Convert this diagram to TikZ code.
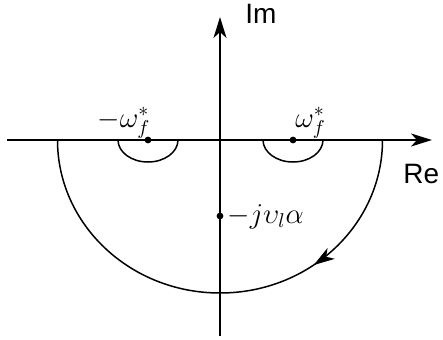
\documentclass[tikz,border=0pt]{standalone}
\usepackage{fontspec}
\newfontfamily\axisfont{Liberation Sans}
\usetikzlibrary{arrows.meta, decorations.markings}
\tikzset{
    >={Stealth[length=10.5pt, width=6.5pt, inset=3pt]}, % bold arrow heads
    axis/.style={->, line width=0.85pt}, % the two axes
    contour/.style={line width=0.75pt}, % the closed path
    pole/.style={circle, fill, inner sep=1.2pt}, % points on the axes
    lbl/.style={inner sep=0pt, font=\fontsize{14}{16}\selectfont}
}

\begin{document}
\begin{tikzpicture}[x=0.5pt, y=0.5pt]
    \useasboundingbox (-220,140) rectangle (223,-199);

    % axes
    \coordinate (west) at (-213,0);
    \coordinate (east) at (212,0);
    \coordinate (south) at (0,-196);
    \coordinate (north) at (0,123);
    \draw[axis] (west) -- (east);
    \draw[axis] (south) -- (north);
    \node[lbl, anchor=base west, font=\fontsize{14}{16}\axisfont] (im) at (25,117) {Im};
    \node[lbl, anchor=base west, font=\fontsize{14}{16}\axisfont] (re) at (183,-43) {Re};

    % points
    \node[pole] (pl) at (-72,0) {};
    \node[pole] (pr) at (73,0) {};
    \node[pole] (pj) at (0,-76) {};
    \node[lbl, anchor=base west] (lpl) at (-123,13) {$-\omega_f^*$};
    \node[lbl, anchor=base west] (lpr) at (75,13) {$\omega_f^*$};
    \node[lbl, anchor=base west] (lpj) at (7,-83) {$-j\upsilon_{l}\alpha$};

    % contour
    \draw[contour, postaction={decorate, decoration={markings,
        mark=at position 0.3 with {\arrow{>}}}}]
        (162.5,0) arc[start angle=0, end angle=-180, x radius=81.25pt, y radius=76.5pt];
    \draw[contour] (pl) ++(30,0) arc[start angle=0, end angle=-180, x radius=15pt, y radius=11pt];
    \draw[contour] (pr) ++(30,0) arc[start angle=0, end angle=-180, x radius=15pt, y radius=11pt];
\end{tikzpicture}
\end{document}
